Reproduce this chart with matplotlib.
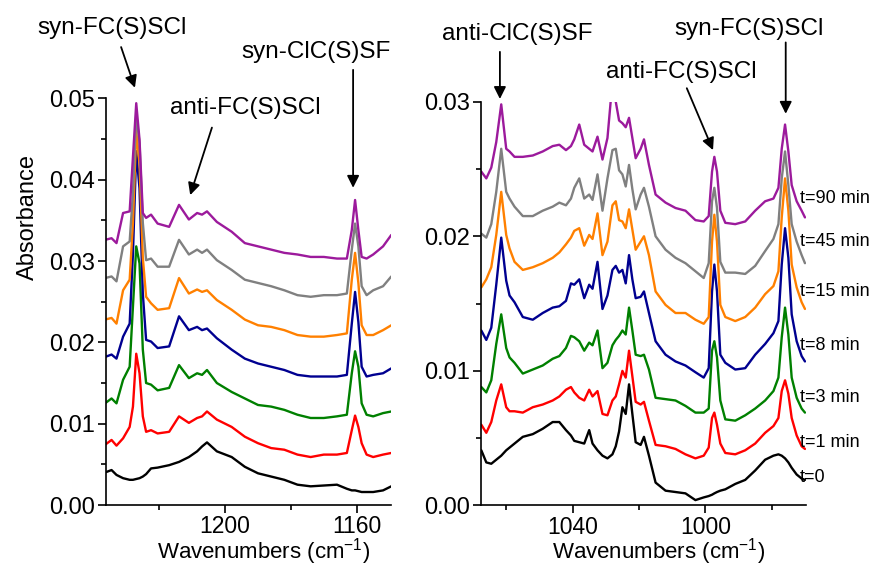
import numpy as np
import matplotlib
matplotlib.use("Agg")
import matplotlib.pyplot as plt
from matplotlib.ticker import MultipleLocator, FormatStrFormatter

plt.rcParams['font.family'] = ['Liberation Sans', 'DejaVu Sans']
plt.rcParams['mathtext.fontset'] = 'custom'
plt.rcParams['mathtext.rm'] = 'Liberation Sans'
plt.rcParams['mathtext.it'] = 'Liberation Sans:italic'
plt.rcParams['mathtext.default'] = 'regular'

# ---- data ----
time_labels = ['t=0', 't=1 min', 't=3 min', 't=8 min', 't=15 min', 't=45 min', 't=90 min']
colors = ['#000000', '#ff0000', '#008000', '#000090', '#ff8000', '#808080', '#9c1a9c']

# left panel, 1236 - 1150 cm-1
wn_left = [1236.5, 1234.5, 1233, 1231, 1229, 1228, 1227, 1226, 1225, 1224, 1222.5, 1220.5,
           1217, 1214, 1211, 1208.5, 1207, 1205.5, 1202.5, 1198, 1194, 1190, 1186, 1182,
           1178, 1174, 1170, 1166, 1163, 1161.5, 1160.5, 1159.5, 1158.5, 1157, 1155, 1152, 1149.5]
left_t0 = [.0040, .0043, .0037, .0033, .0031, .0031, .0032, .0033, .0035, .0038, .0045, .0046,
           .0049, .0053, .0059, .0066, .0072, .0077, .0066, .0059, .0047, .0039, .0035, .0031,
           .0025, .0023, .0024, .0025, .0020, .0018, .0018, .0017, .0016, .0016, .0016, .0018, .0023]
left_t1 = [.0074, .0080, .0073, .0082, .0096, .0121, .0186, .0162, .0109, .0090, .0092, .0088,
           .0090, .0109, .0101, .0107, .0109, .0115, .0105, .0096, .0084, .0076, .0070, .0068,
           .0062, .0059, .0062, .0062, .0064, .0092, .0110, .0096, .0076, .0062, .0059, .0062, .0064]
left_t3 = [.0125, .0131, .0125, .0154, .0170, .0244, .0318, .0297, .0191, .0150, .0148, .0141,
           .0144, .0172, .0156, .0162, .0160, .0166, .0150, .0139, .0131, .0123, .0121, .0117,
           .0111, .0107, .0107, .0109, .0111, .0162, .0189, .0170, .0125, .0111, .0109, .0113, .0115]
left_t8 = [.0182, .0185, .0180, .0207, .0223, .0309, .0435, .0389, .0260, .0203, .0201, .0193,
           .0195, .0232, .0215, .0219, .0215, .0217, .0205, .0191, .0180, .0174, .0170, .0166,
           .0160, .0158, .0158, .0158, .0160, .0223, .0262, .0225, .0170, .0158, .0160, .0162, .0168]
left_t15 = [.0228, .0230, .0223, .0264, .0277, .0347, .0460, .0419, .0304, .0256, .0248, .0240,
            .0242, .0279, .0260, .0265, .0262, .0264, .0252, .0240, .0228, .0221, .0219, .0215,
            .0209, .0207, .0207, .0209, .0211, .0277, .0310, .0273, .0221, .0209, .0209, .0215, .0221]
left_t45 = [.0279, .0281, .0275, .0318, .0324, .0384, .0480, .0445, .0347, .0301, .0303, .0293,
            .0293, .0326, .0308, .0314, .0310, .0314, .0301, .0289, .0277, .0273, .0269, .0264,
            .0258, .0256, .0258, .0258, .0260, .0314, .0346, .0318, .0269, .0258, .0264, .0269, .0281]
left_t90 = [.0326, .0328, .0322, .0359, .0361, .0428, .0494, .0449, .0359, .0353, .0357, .0346,
            .0342, .0369, .0351, .0359, .0357, .0361, .0348, .0336, .0322, .0318, .0314, .0310,
            .0308, .0305, .0305, .0303, .0303, .0338, .0375, .0338, .0305, .0303, .0308, .0318, .0332]

# right panel, 1068 - 970 cm-1
wn_right = [1067.5, 1066, 1064.5, 1063, 1061.5, 1060, 1059, 1057.5, 1055, 1052, 1049, 1046,
            1044, 1042, 1040.5, 1039.5, 1038, 1036.5, 1035, 1034, 1032.5, 1031, 1029.5, 1028,
            1027, 1026, 1025, 1024, 1023, 1022, 1021, 1019.5, 1018.5, 1017, 1015, 1012, 1009,
            1006, 1003, 1000.5, 999, 998, 997.3, 996.5, 995.5, 994, 991, 988, 985, 982, 979.5,
            978, 977, 976, 975, 974, 972.5, 971, 970]
right_t0 = [.0041, .0032, .0031, .0034, .0037, .0041, .0043, .0046, .0051, .0053, .0057, .0062,
            .0062, .0056, .0052, .0048, .0047, .0046, .0056, .0046, .0041, .0037, .0035, .0038,
            .0044, .0055, .0073, .0068, .0090, .0068, .0047, .0045, .0051, .0037, .0017, .0011, .0010,
            .0009, .0004, .0006, .0007, .0008, .0009, .0010, .0011, .0012, .0016, .0019, .0026, .0034, .0037,
            .0038, .0037, .0035, .0032, .0028, .0023, .0020, .0019]
right_t1 = [.0060, .0054, .0062, .0078, .0090, .0073, .0070, .0070, .0069, .0073, .0075, .0078,
            .0081, .0086, .0088, .0084, .0080, .0078, .0086, .0081, .0085, .0068, .0067, .0078,
            .0081, .0090, .0100, .0095, .0115, .0096, .0077, .0075, .0077, .0063, .0045, .0044, .0042,
            .0038, .0035, .0037, .0043, .0065, .0069, .0060, .0046, .0039, .0038, .0041, .0046, .0054, .0059,
            .0065, .0085, .0093, .0083, .0065, .0052, .0044, .0042]
right_t3 = [.0088, .0084, .0093, .0120, .0142, .0117, .0110, .0106, .0098, .0101, .0104, .0109,
            .0111, .0117, .0126, .0125, .0122, .0115, .0121, .0119, .0130, .0102, .0106, .0119,
            .0123, .0126, .0130, .0127, .0147, .0130, .0112, .0111, .0112, .0101, .0080, .0079, .0078,
            .0074, .0069, .0069, .0072, .0115, .0122, .0110, .0078, .0064, .0063, .0067, .0072, .0078, .0085,
            .0095, .0125, .0147, .0127, .0095, .0080, .0072, .0069]
right_t8 = [.0130, .0123, .0132, .0164, .0199, .0167, .0156, .0151, .0140, .0138, .0143, .0147,
            .0148, .0152, .0165, .0164, .0168, .0154, .0164, .0161, .0181, .0146, .0156, .0175,
            .0178, .0173, .0175, .0165, .0186, .0168, .0154, .0155, .0159, .0143, .0122, .0112, .0107,
            .0104, .0099, .0095, .0102, .0159, .0179, .0159, .0112, .0106, .0101, .0102, .0112, .0120, .0128,
            .0137, .0179, .0206, .0184, .0142, .0122, .0111, .0107]
right_t15 = [.0162, .0168, .0177, .0201, .0233, .0201, .0191, .0181, .0175, .0177, .0180, .0184,
             .0188, .0194, .0199, .0204, .0206, .0193, .0201, .0198, .0217, .0186, .0196, .0223,
             .0226, .0212, .0211, .0206, .0220, .0205, .0190, .0196, .0200, .0186, .0159, .0149, .0143,
             .0143, .0138, .0135, .0140, .0196, .0216, .0196, .0149, .0140, .0137, .0140, .0147, .0157, .0163,
             .0174, .0214, .0243, .0219, .0179, .0162, .0151, .0146]
right_t45 = [.0202, .0199, .0209, .0233, .0265, .0233, .0228, .0222, .0215, .0215, .0219, .0222,
             .0225, .0223, .0228, .0236, .0243, .0228, .0231, .0227, .0246, .0219, .0243, .0264,
             .0265, .0249, .0246, .0237, .0253, .0235, .0220, .0231, .0236, .0222, .0200, .0190, .0184,
             .0180, .0174, .0169, .0180, .0226, .0236, .0221, .0181, .0173, .0173, .0172, .0178, .0189, .0198,
             .0209, .0243, .0263, .0238, .0209, .0196, .0186, .0180]
right_t90 = [.0248, .0243, .0251, .0270, .0298, .0265, .0263, .0259, .0259, .0260, .0263, .0267,
             .0268, .0264, .0267, .0272, .0283, .0268, .0265, .0263, .0274, .0257, .0273, .0315,
             .0300, .0286, .0284, .0281, .0288, .0273, .0258, .0265, .0272, .0253, .0231, .0225, .0221,
             .0219, .0212, .0211, .0215, .0248, .0259, .0248, .0219, .0210, .0209, .0211, .0219, .0226, .0228,
             .0236, .0265, .0283, .0263, .0238, .0226, .0219, .0214]

left_series = [left_t0, left_t1, left_t3, left_t8, left_t15, left_t45, left_t90]
right_series = [right_t0, right_t1, right_t3, right_t8, right_t15, right_t45, right_t90]
label_y = [.0021, .0047, .0080, .0119, .0159, .0196, .0228]


def style_axes(ax):
    for s in ['top', 'right']:
        ax.spines[s].set_visible(False)
    for s in ['left', 'bottom']:
        ax.spines[s].set_linewidth(1.2)
    ax.tick_params(which='both', direction='out', width=1.2, labelsize=17)
    ax.tick_params(axis='y', which='both', pad=2.5)
    ax.tick_params(axis='x', which='both', pad=2, labelsize=16.5)
    ax.tick_params(which='major', length=5.5)
    ax.tick_params(which='minor', length=3.5)
    ax.xaxis.set_major_locator(MultipleLocator(40))
    ax.xaxis.set_minor_locator(MultipleLocator(20))
    ax.yaxis.set_major_locator(MultipleLocator(0.01))
    ax.yaxis.set_minor_locator(MultipleLocator(0.005))
    ax.yaxis.set_major_formatter(FormatStrFormatter('%.2f'))
    ax.set_xlabel('Wavenumbers (cm$^{-1}$)', fontsize=16)


def arrow(ax, tail, head):
    ax.annotate('', xy=head, xytext=tail, annotation_clip=False,
                arrowprops=dict(arrowstyle='-|>', color='black', lw=1.3,
                                mutation_scale=18, shrinkA=0, shrinkB=0))


fig = plt.figure(figsize=(8.75, 5.67), dpi=100)
axL = fig.add_axes([0.1211, 0.1093, 0.3257, 0.7173])
axR = fig.add_axes([0.5497, 0.1085, 0.3714, 0.7122])

for y, c in zip(left_series, colors):
    axL.plot(wn_left, y, color=c, lw=1.7, solid_joinstyle='round', solid_capstyle='round')
for y, c in zip(right_series, colors):
    axR.plot(wn_right, y, color=c, lw=1.7, solid_joinstyle='round', solid_capstyle='round')

axL.set_xlim(1236.2, 1149.6)
axL.set_ylim(0, 0.05)
axR.set_xlim(1067.6, 969.7)
axR.set_ylim(0, 0.03)
style_axes(axL)
style_axes(axR)

axL.set_ylabel('Absorbance', fontsize=17)
axL.yaxis.set_label_coords(-0.235, 0.708)
axL.xaxis.set_label_coords(0.554, -0.077)
axR.xaxis.set_label_coords(0.548, -0.077)

# time labels on the right
for lab, yy in zip(time_labels, label_y):
    axR.text(971.5, yy, lab, fontsize=13, ha='left', va='center', clip_on=False)

# band assignments
fs = 17.5
axL.text(1234.3, 0.0587, 'syn-FC(S)SCl', fontsize=fs, ha='center', va='center')
arrow(axL, (1231.6, 0.0563), (1227.4, 0.0513))
axL.text(1193.9, 0.0488, 'anti-FC(S)SCl', fontsize=fs, ha='center', va='center')
arrow(axL, (1204.0, 0.0464), (1210.6, 0.0381))
axL.text(1172.3, 0.0557, 'syn-ClC(S)SF', fontsize=fs, ha='center', va='center')
arrow(axL, (1161.1, 0.0535), (1161.1, 0.0390))

axR.text(1056.8, 0.0350, 'anti-ClC(S)SF', fontsize=fs, ha='center', va='center')
arrow(axR, (1061.9, 0.0337), (1061.9, 0.0302))
axR.text(986.9, 0.0354, 'syn-FC(S)SCl', fontsize=fs, ha='center', va='center')
arrow(axR, (975.8, 0.0344), (975.8, 0.0291))
axR.text(1007.4, 0.0322, 'anti-FC(S)SCl', fontsize=fs, ha='center', va='center')
arrow(axR, (1005.6, 0.0310), (997.7, 0.0264))

fig.savefig('out.png', dpi=100)
